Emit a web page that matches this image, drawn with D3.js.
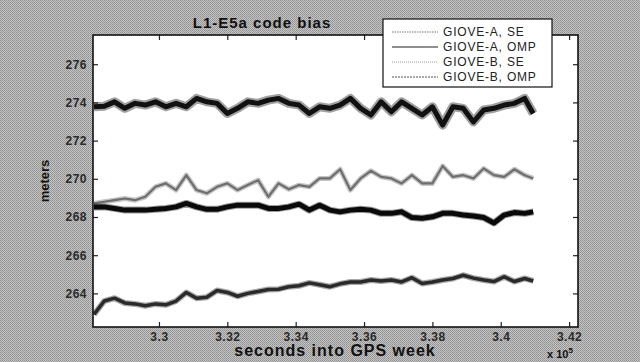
<!DOCTYPE html>
<html><head><meta charset="utf-8">
<script src="https://cdn.jsdelivr.net/npm/d3@7"></script>
<style>body{margin:0;background:#adadad}svg{display:block}</style>
</head><body><svg id="c" width="640" height="362"></svg>
<script>
// seconds into GPS week
const times = [328100,328400,328700,329000,329300,329600,329900,330200,330500,330800,
  331100,331400,331700,332000,332300,332600,332900,333200,333500,333800,
  334100,334400,334700,335000,335300,335600,335900,336200,336500,336800,
  337100,337400,337700,338000,338300,338600,338900,339200,339500,339800,
  340100,340400,340700,340950];
const seriesNames = ["GIOVE-A, SE","GIOVE-A, OMP","GIOVE-B, SE","GIOVE-B, OMP"];
const gioveA_SE = [262.9,263.6,263.75,263.5,263.45,263.35,263.45,263.4,263.6,264.05,
  263.75,263.8,264.15,264.05,263.85,264.0,264.1,264.2,264.22,264.35,
  264.4,264.55,264.45,264.35,264.5,264.6,264.6,264.7,264.65,264.7,
  264.6,264.82,264.52,264.6,264.7,264.78,264.95,264.8,264.7,264.62,
  264.87,264.62,264.78,264.65];
const gioveA_OMP = [273.77,273.8,274.03,273.69,273.95,273.86,274.03,273.77,273.95,273.77,
  274.21,274.03,273.95,273.42,273.69,274.03,273.95,274.12,274.21,273.95,
  273.86,273.42,273.77,273.69,273.86,274.21,273.69,273.34,274.03,273.51,
  274.03,273.69,273.34,273.77,272.81,273.77,273.69,272.98,273.6,273.69,
  273.86,273.95,274.21,273.42];
const gioveB_SE = [268.71,268.8,268.88,268.97,268.88,269.06,269.58,269.76,269.41,270.19,
  269.41,269.24,269.58,269.76,269.41,269.67,269.93,269.06,269.76,269.45,
  269.67,269.58,270.02,270.02,270.5,269.41,270.02,270.42,270.1,270.02,
  269.76,270.19,269.76,269.76,270.67,270.1,270.19,270.02,270.54,270.19,
  270.1,270.5,270.19,270.02];
const gioveB_OMP = [268.53,268.53,268.45,268.36,268.36,268.36,268.4,268.45,268.53,268.71,
  268.53,268.4,268.4,268.53,268.62,268.62,268.62,268.45,268.45,268.53,
  268.67,268.36,268.62,268.36,268.27,268.36,268.4,268.36,268.19,268.19,
  268.27,267.97,267.93,268.01,268.19,268.19,268.1,268.05,267.97,267.69,
  268.1,268.23,268.19,268.27];
const xTicks = [330000,332000,334000,336000,338000,340000,342000];
const yTicks = [264,266,268,270,272,274,276];

const svg = d3.select("#c");
const defs = svg.append("defs");
const pat = defs.append("pattern").attr("id","ht").attr("width",2).attr("height",2)
  .attr("patternUnits","userSpaceOnUse");
pat.append("rect").attr("width",2).attr("height",2).attr("fill","#c6c6c6");
pat.append("rect").attr("width",1).attr("height",1).attr("fill","#8e8e8e");
pat.append("rect").attr("x",1).attr("y",1).attr("width",1).attr("height",1).attr("fill","#9a9a9a");
svg.append("rect").attr("width",640).attr("height",362).attr("fill","url(#ht)");

const L=93,R=578,T=35,B=327;
const x = d3.scaleLinear().domain([328070,342260]).range([L,R]);
const y = d3.scaleLinear().domain([262.24,277.53]).range([B,T]);

svg.append("rect").attr("x",L).attr("y",T).attr("width",R-L).attr("height",B-T).attr("fill","#fff");

const font = "'Liberation Sans', Arial, sans-serif";
function styleAxis(g, labels){
  g.select(".domain").remove();
  g.selectAll(".tick line").attr("stroke","#222").attr("stroke-width",1.2);
  g.selectAll(".tick text").attr("font-family",font).attr("font-size",12)
    .attr("fill","#2a2a2a").attr("font-weight","bold").attr("letter-spacing",0.5);
  if(!labels) g.selectAll(".tick text").remove();
}
svg.append("g").attr("transform",`translate(${L},0)`)
  .call(d3.axisLeft(y).tickValues(yTicks).tickSize(-5).tickPadding(6).tickFormat(d3.format("d")))
  .call(g=>styleAxis(g,true));
svg.append("g").attr("transform",`translate(${R},0)`)
  .call(d3.axisRight(y).tickValues(yTicks).tickSize(-5))
  .call(g=>styleAxis(g,false));
svg.append("g").attr("transform",`translate(0,${B})`)
  .call(d3.axisBottom(x).tickValues(xTicks).tickSize(-5).tickPadding(5).tickFormat(d=>String(d/1e5)))
  .call(g=>styleAxis(g,true));
svg.append("g").attr("transform",`translate(0,${T})`)
  .call(d3.axisTop(x).tickValues(xTicks).tickSize(-5))
  .call(g=>styleAxis(g,false));

const line = d3.line().x((d,i)=>x(times[i])).y(d=>y(d)).curve(d3.curveLinear);
const series = [
  {name:seriesNames[0], data:gioveA_SE, color:"#2a2a2a", w:3.5, halo:6},
  {name:seriesNames[1], data:gioveA_OMP, color:"#111", w:5, halo:9},
  {name:seriesNames[2], data:gioveB_SE, color:"#6e6e6e", w:2.2, halo:5},
  {name:seriesNames[3], data:gioveB_OMP, color:"#0a0a0a", w:5, halo:7}
];
const clip = defs.append("clipPath").attr("id","pc");
clip.append("rect").attr("x",L).attr("y",T).attr("width",R-L).attr("height",B-T);
const pg = svg.append("g").attr("clip-path","url(#pc)");
series.forEach(s=>{
  pg.append("path").attr("d",line(s.data)).attr("fill","none")
    .attr("stroke",s.color).attr("stroke-opacity",0.4).attr("stroke-width",s.halo)
    .attr("stroke-linejoin","round");
  pg.append("path").attr("d",line(s.data)).attr("fill","none")
    .attr("stroke",s.color).attr("stroke-width",s.w).attr("stroke-linejoin","round");
});

// frame
svg.append("rect").attr("x",L).attr("y",T).attr("width",R-L).attr("height",B-T)
  .attr("fill","none").attr("stroke","#111").attr("stroke-width",1.6);

// title & labels
svg.append("text").attr("x",262).attr("y",28).attr("text-anchor","middle")
  .attr("font-family",font).attr("font-weight","bold").attr("font-size",15)
  .attr("letter-spacing",1).attr("fill","#111")
  .text("L1-E5a code bias");
svg.append("text").attr("transform","translate(49,181) rotate(-90)").attr("text-anchor","middle")
  .attr("font-family",font).attr("font-weight","bold").attr("font-size",13).attr("fill","#111")
  .text("meters");
svg.append("text").attr("x",335).attr("y",356).attr("text-anchor","middle")
  .attr("font-family",font).attr("font-weight","bold").attr("font-size",16)
  .attr("letter-spacing",1).attr("fill","#111")
  .text("seconds into GPS week");
const ex = svg.append("text").attr("x",547).attr("y",358)
  .attr("font-family",font).attr("font-weight","bold").attr("font-size",11).attr("fill","#111");
ex.append("tspan").text("x 10");
ex.append("tspan").attr("dy",-5).attr("font-size",8).text("5");

// legend
const lg = svg.append("g");
lg.append("rect").attr("x",383).attr("y",19).attr("width",169).attr("height",68)
  .attr("fill","#fff").attr("stroke","#111").attr("stroke-width",1.2);
const legendColors = ["#777","#222","#999","#555"];
const legendDash = ["1.5,1",null,"1,1","2,1"];
seriesNames.forEach((n,i)=>{
  const cy = 32 + i*15;
  lg.append("line").attr("x1",392).attr("x2",438).attr("y1",cy).attr("y2",cy)
    .attr("stroke",legendColors[i]).attr("stroke-width",1.2)
    .attr("stroke-dasharray",legendDash[i]);
  lg.append("text").attr("x",443).attr("y",cy+4).attr("font-family",font)
    .attr("font-size",12).attr("letter-spacing",0.8).attr("fill","#222").text(n);
});
</script></body></html>
